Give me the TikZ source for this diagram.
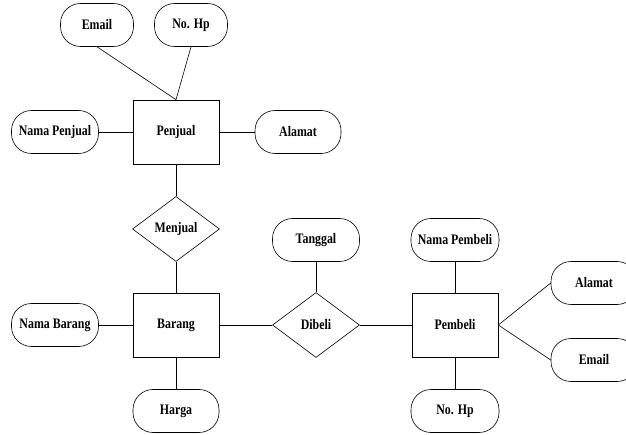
\documentclass[tikz,border=0pt]{standalone}
\usepackage{fontspec}
\newfontfamily\erfont{Liberation Serif}[FakeStretch=0.82]
\usetikzlibrary{shapes.geometric}
\begin{document}
\begin{tikzpicture}[x=1pt,y=-1pt,
  every node/.style={font=\erfont\bfseries\fontsize{14.5}{16}\selectfont, inner sep=0pt},
  attr/.style={draw, line width=0.6pt, rectangle, rounded corners=20pt, minimum width=86pt, minimum height=43pt},
  ent/.style={draw, line width=0.6pt, rectangle, minimum width=86pt, minimum height=64pt},
  rel/.style={draw, line width=0.6pt, diamond, aspect=1.34, minimum width=87pt, minimum height=65pt},
  conn/.style={line width=0.6pt}]
\useasboundingbox (0,0) rectangle (626,435);
% entities
\node[ent] (penjual) at (176,132) {Penjual};
\node[ent] (barang) at (176,325) {Barang};
\node[ent] (pembeli) at (455,325) {Pembeli};
% relations
\node[rel] (menjual) at (176,229) {Menjual};
\node[rel] (dibeli) at (316,325) {Dibeli};
% attributes
\node[attr, minimum width=73pt] (email1) at (97,25) {Email};
\node[attr, minimum width=73pt] (nohp1) at (191,25) {No. Hp};
\node[attr, minimum width=87pt] (namapenjual) at (55,132) {Nama Penjual};
\node[attr] (alamat1) at (298,132) {Alamat};
\node[attr, minimum width=87pt] (namabarang) at (55,325) {Nama Barang};
\node[attr] (harga) at (176,411) {Harga};
\node[attr, minimum width=87pt] (tanggal) at (316,240) {Tanggal};
\node[attr, minimum width=88pt] (namapembeli) at (455,240) {Nama Pembeli};
\node[attr, minimum width=88pt] (nohp2) at (455,411) {No. Hp};
\node[attr] (alamat2) at (594,283) {Alamat};
\node[attr] (email2) at (594,360) {Email};
% connectors
\draw[conn] (email1.south) -- (penjual.north);
\draw[conn] (nohp1.south) -- (penjual.north);
\draw[conn] (namapenjual.east) -- (penjual.west);
\draw[conn] (penjual.east) -- (alamat1.west);
\draw[conn] (penjual.south) -- (menjual.north);
\draw[conn] (menjual.south) -- (barang.north);
\draw[conn] (namabarang.east) -- (barang.west);
\draw[conn] (barang.south) -- (harga.north);
\draw[conn] (barang.east) -- (dibeli.west);
\draw[conn] (tanggal.south) -- (dibeli.north);
\draw[conn] (dibeli.east) -- (pembeli.west);
\draw[conn] (namapembeli.south) -- (pembeli.north);
\draw[conn] (pembeli.south) -- (nohp2.north);
\draw[conn] (pembeli.east) -- (alamat2.west);
\draw[conn] (pembeli.east) -- (email2.west);
\end{tikzpicture}
\end{document}
